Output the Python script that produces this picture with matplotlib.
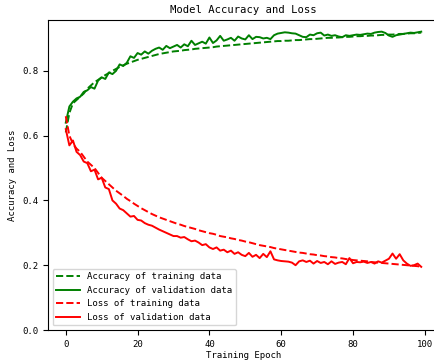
import matplotlib
matplotlib.use("Agg")
import matplotlib.pyplot as plt
import numpy as np

epochs = list(range(100))

acc_train = [0.61, 0.67, 0.70, 0.71, 0.72, 0.73, 0.745, 0.755, 0.765, 0.772,
             0.78, 0.787, 0.793, 0.80, 0.806, 0.812, 0.817, 0.822, 0.826, 0.83,
             0.834, 0.837, 0.84, 0.843, 0.846, 0.849, 0.852, 0.854, 0.856, 0.858,
             0.860, 0.861, 0.862, 0.864, 0.865, 0.866, 0.868, 0.869, 0.870, 0.871,
             0.872, 0.873, 0.875, 0.876, 0.877, 0.878, 0.879, 0.880, 0.881, 0.882,
             0.883, 0.884, 0.885, 0.886, 0.887, 0.888, 0.889, 0.890, 0.891, 0.892,
             0.892, 0.893, 0.893, 0.894, 0.895, 0.895, 0.896, 0.897, 0.898, 0.898,
             0.899, 0.900, 0.901, 0.902, 0.902, 0.903, 0.903, 0.904, 0.905, 0.905,
             0.906, 0.907, 0.907, 0.908, 0.908, 0.909, 0.909, 0.910, 0.911, 0.911,
             0.912, 0.912, 0.913, 0.914, 0.914, 0.915, 0.916, 0.916, 0.917, 0.918]

acc_val = [0.64, 0.69, 0.705, 0.715, 0.72, 0.735, 0.74, 0.75, 0.745, 0.77,
           0.78, 0.775, 0.795, 0.79, 0.80, 0.82, 0.815, 0.825, 0.845, 0.84,
           0.855, 0.85, 0.86, 0.853, 0.862, 0.868, 0.872, 0.865, 0.877, 0.87,
           0.875, 0.88, 0.872, 0.882, 0.876, 0.893, 0.88, 0.885, 0.89, 0.884,
           0.903, 0.886, 0.894, 0.908, 0.893, 0.897, 0.902, 0.893, 0.906, 0.90,
           0.897, 0.91, 0.898, 0.905, 0.904, 0.90, 0.902, 0.898, 0.91, 0.915,
           0.917, 0.919, 0.918, 0.916, 0.915, 0.91, 0.905, 0.904, 0.912, 0.91,
           0.916, 0.918, 0.909, 0.912, 0.908, 0.91, 0.906, 0.904, 0.91, 0.908,
           0.91, 0.912, 0.911, 0.913, 0.915, 0.914, 0.918, 0.92, 0.921, 0.917,
           0.909, 0.905, 0.91, 0.912, 0.914, 0.916, 0.918, 0.917, 0.919, 0.921]

loss_train = [0.66, 0.60, 0.575, 0.56, 0.55, 0.535, 0.52, 0.51, 0.50, 0.485,
              0.47, 0.46, 0.45, 0.44, 0.43, 0.422, 0.414, 0.405, 0.398, 0.39,
              0.383, 0.376, 0.37, 0.364, 0.358, 0.353, 0.348, 0.344, 0.34, 0.336,
              0.332, 0.328, 0.325, 0.321, 0.318, 0.315, 0.312, 0.308, 0.305, 0.302,
              0.299, 0.297, 0.294, 0.29, 0.288, 0.286, 0.283, 0.281, 0.278, 0.276,
              0.273, 0.271, 0.268, 0.265, 0.262, 0.26, 0.258, 0.256, 0.253, 0.251,
              0.249, 0.247, 0.245, 0.243, 0.241, 0.239, 0.238, 0.236, 0.234, 0.233,
              0.231, 0.23, 0.228, 0.227, 0.225, 0.224, 0.222, 0.221, 0.219, 0.218,
              0.216, 0.215, 0.214, 0.213, 0.212, 0.21, 0.209, 0.208, 0.207, 0.206,
              0.205, 0.204, 0.203, 0.202, 0.201, 0.20, 0.199, 0.198, 0.197, 0.195]

loss_val = [0.62, 0.57, 0.585, 0.55, 0.54, 0.52, 0.515, 0.49, 0.495, 0.465,
            0.47, 0.44, 0.435, 0.40, 0.39, 0.375, 0.37, 0.36, 0.35, 0.352,
            0.34, 0.338, 0.33, 0.325, 0.322, 0.316, 0.31, 0.305, 0.30, 0.295,
            0.29, 0.29, 0.285, 0.287, 0.28, 0.274, 0.276, 0.27, 0.262, 0.265,
            0.255, 0.25, 0.255, 0.245, 0.248, 0.24, 0.245, 0.235, 0.24, 0.232,
            0.228, 0.238, 0.226, 0.232, 0.222, 0.235, 0.225, 0.243, 0.218, 0.215,
            0.213, 0.212, 0.211, 0.208, 0.20, 0.212, 0.215, 0.21, 0.214, 0.205,
            0.213, 0.207, 0.21, 0.203, 0.212, 0.204, 0.208, 0.21, 0.203, 0.222,
            0.206, 0.21, 0.209, 0.211, 0.207, 0.21, 0.205, 0.212, 0.208, 0.214,
            0.22, 0.236, 0.22, 0.234, 0.215, 0.205, 0.198, 0.20, 0.205, 0.195]

title = "Model Accuracy and Loss"
xlabel = "Training Epoch"
ylabel = "Accuracy and Loss"
labels = ["Accuracy of training data", "Accuracy of validation data",
          "Loss of training data", "Loss of validation data"]

plt.rcParams['font.family'] = ['DejaVu Sans Mono']

fig = plt.figure(figsize=(4.35, 3.64), dpi=100)
ax = fig.add_axes([48/435, 1-330/364, (439-48)/435, 310/364])

ax.plot(epochs, acc_train, color='green', linestyle='--', linewidth=1.4, label=labels[0])
ax.plot(epochs, acc_val, color='green', linestyle='-', linewidth=1.4, label=labels[1])
ax.plot(epochs, loss_train, color='red', linestyle='--', linewidth=1.4, label=labels[2])
ax.plot(epochs, loss_val, color='red', linestyle='-', linewidth=1.4, label=labels[3])

ax.set_ylim(0, 0.957)
ax.set_xticks([0, 20, 40, 60, 80, 100])
ax.set_yticks([0.0, 0.2, 0.4, 0.6, 0.8])
ax.tick_params(labelsize=6.5, length=3.5)
ax.set_title(title, fontsize=7.6, pad=5)
ax.set_xlabel(xlabel, fontsize=6.5, labelpad=2)
ax.set_ylabel(ylabel, fontsize=6.5, labelpad=4)
ax.legend(loc='lower left', fontsize=6.5, handlelength=2.6)

fig.savefig("out.png", dpi=100)
